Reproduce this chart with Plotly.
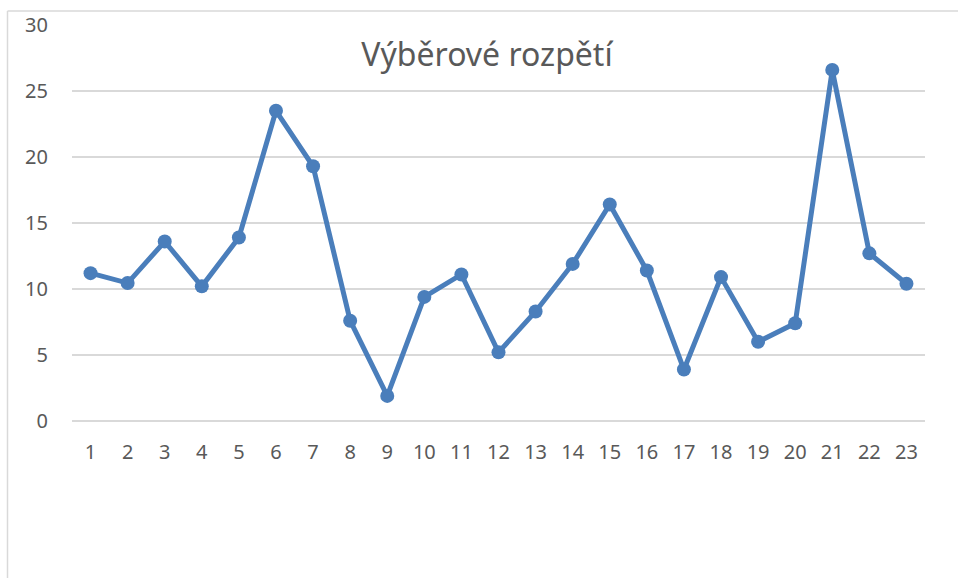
import plotly.graph_objects as go

categories = list(range(1, 24))
values = [11.2, 10.45, 13.6, 10.2, 13.9, 23.5, 19.3, 7.6, 1.9, 9.4, 11.1, 5.2,
          8.3, 11.9, 16.4, 11.4, 3.9, 10.9, 6.0, 7.4, 26.6, 12.7, 10.4]
y_ticks = [0, 5, 10, 15, 20, 25, 30]
title_text = "Výběrové rozpětí"

W, H = 958, 578
L, R, T, B = 72, 33, 25, 157
pw, ph = W - L - R, H - T - B

fig = go.Figure()
fig.add_trace(go.Scatter(
    x=categories, y=values, mode="lines+markers",
    line=dict(color="#4a7ebb", width=5),
    marker=dict(color="#4a7ebb", size=14),
    showlegend=False, cliponaxis=False,
))

grey = "#595959"
fig.update_layout(
    width=W, height=H,
    margin=dict(l=L, r=R, t=T, b=B),
    paper_bgcolor="white", plot_bgcolor="white",
    font=dict(family="Noto Sans, Open Sans, sans-serif", color=grey, size=20),
    title=dict(text=title_text, x=487 / W, xanchor="center", xref="container",
               y=1 - 55 / H, yanchor="middle", yref="container",
               font=dict(size=32, color=grey)),
    xaxis=dict(range=[0.5, 23.5], tickmode="array", tickvals=categories,
               ticktext=[str(c) for c in categories], showgrid=False,
               zeroline=False, showline=False, ticks="", ticklabelstandoff=17,
               tickfont=dict(size=20, color=grey)),
    yaxis=dict(range=[0, 30], tickmode="array", tickvals=y_ticks,
               showgrid=True, gridcolor="#d9d9d9", gridwidth=1.5,
               zeroline=True, zerolinecolor="#d9d9d9", zerolinewidth=1.5,
               showline=False, ticks="", ticklabelstandoff=23,
               tickfont=dict(size=20, color=grey)),
)

# chart frame (outer border of the chart area, cropped at right/bottom)
fx0 = (7.5 - L) / pw
fy_top = (H - B - 11) / ph
fig.add_shape(type="line", xref="paper", yref="paper",
              x0=fx0, x1=(W + 5 - L) / pw, y0=fy_top, y1=fy_top,
              line=dict(color="#d9d9d9", width=1.5))
fig.add_shape(type="line", xref="paper", yref="paper",
              x0=fx0, x1=fx0, y0=fy_top, y1=(H - B - H - 5) / ph,
              line=dict(color="#d9d9d9", width=1.5))

fig.write_html("out.html", config={"displayModeBar": False},
               post_script="document.body.style.margin='0';")
